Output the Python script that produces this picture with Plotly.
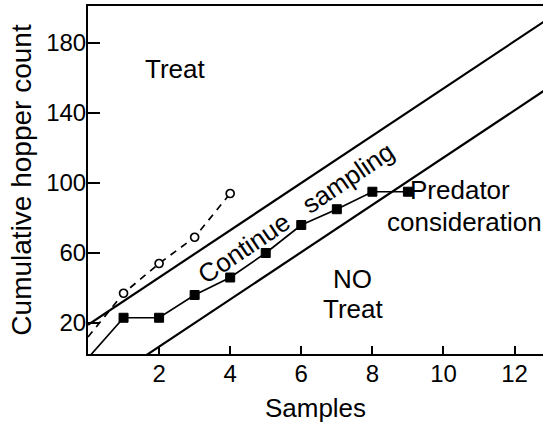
import plotly.graph_objects as go

# ---- data ----
samples_filled = [0, 1, 2, 3, 4, 5, 6, 7, 8, 9]
count_filled = [0, 23, 23, 36, 46, 60, 76, 85, 95, 95]

samples_open = [0, 1, 2, 3, 4]
count_open = [12, 37, 54, 69, 94]

treat_line_x = [0, 13]
treat_line_y = [19, 194.5]
notreat_line_x = [1.52, 13]
notreat_line_y = [0, 155]

x_ticks = [2, 4, 6, 8, 10, 12]
y_ticks = [20, 60, 100, 140, 180]

FONT = "Liberation Sans, Arial, sans-serif"

fig = go.Figure()

fig.add_trace(go.Scatter(x=treat_line_x, y=treat_line_y, mode="lines",
                         line=dict(color="black", width=2.2), hoverinfo="skip"))
fig.add_trace(go.Scatter(x=notreat_line_x, y=notreat_line_y, mode="lines",
                         line=dict(color="black", width=2.2), hoverinfo="skip"))

open_sizes = [0] + [8] * (len(samples_open) - 1)
fig.add_trace(go.Scatter(x=samples_open, y=count_open, mode="lines+markers",
                         line=dict(color="black", width=1.7, dash="7px,6px"),
                         marker=dict(symbol="circle", size=open_sizes, color="white",
                                     opacity=1, line=dict(color="black", width=1.7))))

filled_sizes = [0] + [9] * (len(samples_filled) - 1)
fig.add_trace(go.Scatter(x=samples_filled, y=count_filled, mode="lines+markers",
                         line=dict(color="black", width=1.7),
                         marker=dict(symbol="square", size=filled_sizes, color="black",
                                     opacity=1, line=dict(color="black", width=1))))

ann_font = dict(family=FONT, size=26, color="black")
fig.add_annotation(x=2.45, y=165, text="Treat", showarrow=False, font=ann_font)
fig.add_annotation(x=7.45, y=45.3, text="NO", showarrow=False, font=ann_font)
fig.add_annotation(x=7.45, y=28.1, text="Treat", showarrow=False, font=ann_font)
fig.add_annotation(x=10.46, y=96.2, text="Predator", showarrow=False, font=ann_font)
fig.add_annotation(x=10.58, y=77.8, text="consideration", showarrow=False, font=ann_font)
fig.add_annotation(x=5.85, y=83, text="Continue&nbsp;&nbsp; sampling", showarrow=False,
                   font=dict(family=FONT, size=26, color="black"), textangle=-34)

fig.update_layout(
    width=543, height=426,
    margin=dict(l=88, r=0, t=6, b=72),
    paper_bgcolor="white", plot_bgcolor="white",
    showlegend=False,
    font=dict(family=FONT, color="black"),
)
fig.update_xaxes(range=[0, 12.8], tickvals=x_ticks, ticks="inside", ticklen=8,
                 tickwidth=1.5, tickcolor="black", showgrid=False, zeroline=False,
                 showline=True, linecolor="black", linewidth=2, mirror=True,
                 automargin=False,
                 tickfont=dict(family=FONT, size=24, color="black"),
                 ticklabelstandoff=-3,
                 title=dict(text="Samples", font=dict(family=FONT, size=26, color="black"),
                            standoff=13))
fig.update_yaxes(range=[2.3, 201.1], tickvals=y_ticks, ticks="inside", ticklen=12,
                 tickwidth=1.5, tickcolor="black", showgrid=False, zeroline=False,
                 showline=True, linecolor="black", linewidth=2, mirror=False,
                 automargin=False,
                 tickfont=dict(family=FONT, size=24, color="black"),
                 ticklabelstandoff=-5,
                 title=dict(text="Cumulative hopper count",
                            font=dict(family=FONT, size=28, color="black"), standoff=6))

fig.write_html("out.html", config={"displayModeBar": False},
               post_script="document.body.style.margin='0px';")
